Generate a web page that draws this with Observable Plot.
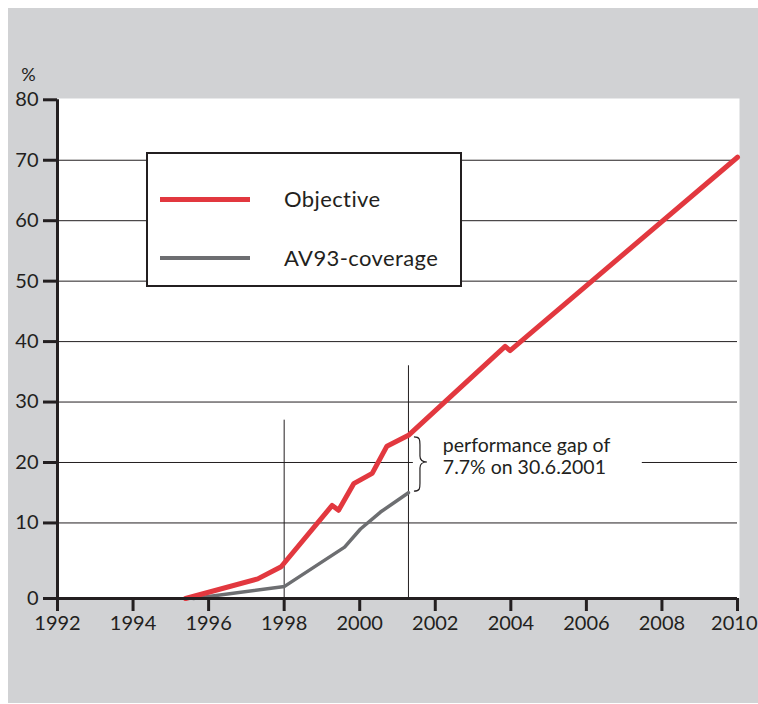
<!DOCTYPE html>
<html>
<head>
<meta charset="utf-8">
<script src="https://cdn.jsdelivr.net/npm/d3@7"></script>
<script src="https://cdn.jsdelivr.net/npm/@observablehq/plot@0.6"></script>
<style>
  html, body { margin: 0; padding: 0; background: #ffffff; }
  #wrap { position: relative; width: 758px; height: 704px; font-family: Lato, "Open Sans", sans-serif; color: #231f20; font-variant-ligatures: none; }
  #bg { position: absolute; left: 8px; top: 8px; width: 750px; height: 695px; background: #d1d2d4; }
  #chart { position: absolute; left: 0; top: 0; }
  #chart svg text { font-variant-ligatures: none; }
  #legend { position: absolute; left: 146px; top: 152px; width: 312px; height: 131px; border: 2px solid #231f20; background: #ffffff; }
  .item { position: absolute; left: 0; width: 100%; height: 30px; }
  .sw { position: absolute; left: 12px; width: 90px; }
  .lab { position: absolute; left: 136px; font-size: 22px; line-height: 30px; top: 0; white-space: nowrap; letter-spacing: 0.4px; }
</style>
</head>
<body>
<div id="wrap">
  <div id="bg"></div>
  <div id="chart"></div>
  <div id="legend"></div>
</div>
<script>
// ---- data ----
const objectiveYears  = [1995.39, 1997.30, 1997.92, 1999.27, 1999.44, 1999.84, 2000.33, 2000.72, 2001.29, 2003.85, 2003.98, 2010.0];
const objectiveValues = [0,       2.6,     4.2,     12.9,    12.1,    16.5,    18.2,    22.7,    24.5,    39.2,    38.5,    70.5];
const coverageYears   = [1995.6, 1998.01, 1999.6, 2000.02, 2000.55, 2001.29];
const coverageValues  = [0,      1.6,     6.8,    9.2,     11.8,    15.0];
const seriesNames  = ["Objective", "AV93-coverage"];
const seriesColors = ["#e2383f", "#6d6e71"];
const xTicks = [1992, 1994, 1996, 1998, 2000, 2002, 2004, 2006, 2008, 2010];
const yTicks = [0, 10, 20, 30, 40, 50, 60, 70, 80];
const gridValues = [10, 30, 40, 50, 60, 70];
const markerYears = [1998, 2001.29];
const markerTops  = [27, 36];
const annotationLines = ["performance gap of", "7.7% on 30.6.2001"];
const annotationYear = 2002.2;
const annotationValues = [22.85, 19.15];
const gapYear = 2001.29;
const gapTop = 24.5, gapBottom = 15.0, gapMid = 20;
// grid line at 20 is interrupted by the annotation
const grid20 = [{x1: 1992, x2: 2001.42}, {x1: 2007.48, x2: 2010}];

// the value axis is stretched between 0 and 10 (0 sits lower than a linear axis would put it)
const BREAK = 10, STRETCH = 1.25;
const t = v => v >= BREAK ? v : BREAK - (BREAK - v) * STRETCH;
const tInv = u => u >= BREAK ? u : BREAK - (BREAK - u) / STRETCH;

const objective = objectiveYears.map((x, i) => ({x, y: objectiveValues[i]}));
const coverage  = coverageYears.map((x, i) => ({x, y: coverageValues[i]}));
const markers   = markerYears.map((x, i) => ({x, top: markerTops[i]}));
const annotation = annotationLines.map((text, i) => ({text, y: annotationValues[i]}));
const lastTick  = xTicks[xTicks.length - 1];

const ink = "#231f20";

const chart = Plot.plot({
  width: 758,
  height: 704,
  marginLeft: 57,
  marginRight: 19,
  marginTop: 98,
  marginBottom: 106,
  style: {background: "transparent", fontFamily: "Lato, 'Open Sans', sans-serif", fontSize: "20px", color: ink, overflow: "visible"},
  x: {domain: [1992, 2010], range: [57, 737], ticks: xTicks},
  y: {domain: [t(0), t(80)], range: [598, 99.3]},
  marks: [
    Plot.frame({fill: "white", stroke: null}),
    Plot.ruleY(gridValues, {y: d => t(d), x1: 1992, x2: 2010, stroke: ink, strokeWidth: 1}),
    Plot.ruleY(grid20, {y: () => t(20), x1: "x1", x2: "x2", stroke: ink, strokeWidth: 1}),
    Plot.ruleX(markers, {x: "x", y1: t(0), y2: d => t(d.top), stroke: ink, strokeWidth: 1}),
    Plot.line(coverage, {x: "x", y: d => t(d.y), stroke: seriesColors[1], strokeWidth: 3.5, strokeLinejoin: "round"}),
    Plot.line(objective, {x: "x", y: d => t(d.y), stroke: seriesColors[0], strokeWidth: 5, strokeLinejoin: "round", strokeLinecap: "round"}),
    Plot.text(annotation, {x: annotationYear, y: d => t(d.y), text: "text", textAnchor: "start", fontSize: 19.5, fill: ink}),
    Plot.ruleY([t(0)], {x1: 1992, x2: 2010, stroke: ink, strokeWidth: 3}),
    Plot.ruleX([1992], {y1: t(0), y2: t(80), stroke: ink, strokeWidth: 3}),
    Plot.axisX({ticks: xTicks, tickFormat: d => d === lastTick ? "" : String(d), tickSize: 13, tickPadding: 4, strokeWidth: 3, stroke: ink, fill: ink, fontSize: 20, label: null}),
    Plot.text([lastTick], {x: d => d, y: t(0), text: d => String(d), textAnchor: "end", lineAnchor: "top", dx: 20, dy: 17, fontSize: 20, fill: ink}),
    Plot.axisY({ticks: yTicks.map(t), tickFormat: u => String(Math.round(tInv(u))), tickSize: 14, tickPadding: 5, strokeWidth: 3, stroke: ink, fill: ink, fontSize: 20, label: null}),
    Plot.text(["%"], {x: 1992, y: t(80), dx: -29, dy: -25, fontSize: 18, fill: ink})
  ]
});
document.getElementById("chart").appendChild(chart);

// curly brace for the performance gap
const xs = chart.scale("x"), ys = chart.scale("y");
const bx = xs.apply(gapYear) + 6;
const bTop = ys.apply(t(gapTop)) + 2, bBot = ys.apply(t(gapBottom)) - 1, bMid = ys.apply(t(gapMid));
const p = d3.path();
p.moveTo(bx, bTop);
p.bezierCurveTo(bx + 6, bTop, bx + 6, bTop + 3, bx + 6, bTop + 8);
p.lineTo(bx + 6, bMid - 6);
p.bezierCurveTo(bx + 6, bMid - 2, bx + 9, bMid, bx + 13, bMid);
p.bezierCurveTo(bx + 9, bMid, bx + 6, bMid + 2, bx + 6, bMid + 6);
p.lineTo(bx + 6, bBot - 8);
p.bezierCurveTo(bx + 6, bBot - 3, bx + 6, bBot, bx, bBot);
d3.select(chart).append("path").attr("d", p.toString()).attr("fill", "none").attr("stroke", ink).attr("stroke-width", 1.2);

// legend
const legend = d3.select("#legend");
const rows = [{top: 30, h: 5}, {top: 89, h: 4}];
seriesNames.forEach((name, i) => {
  const item = legend.append("div").attr("class", "item").style("top", rows[i].top + "px");
  item.append("div").attr("class", "sw").style("top", (15 - rows[i].h / 2) + "px").style("height", rows[i].h + "px").style("background", seriesColors[i]);
  item.append("div").attr("class", "lab").text(name);
});
</script>
</body>
</html>
